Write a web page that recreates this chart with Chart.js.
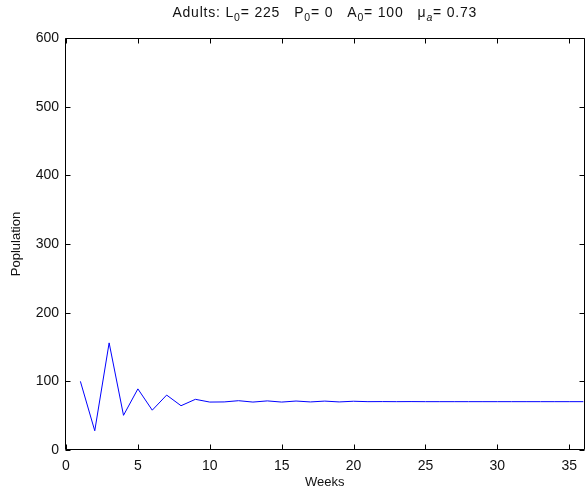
<!DOCTYPE html>
<html><head><meta charset="utf-8">
<script src="https://cdn.jsdelivr.net/npm/chart.js@4"></script>
<style>html,body{margin:0;padding:0;background:#fff}#wrap{width:585px;height:494px}</style>
</head><body><div id="wrap"><canvas id="c" width="585" height="494"></canvas></div>
<script>
const weeks = [1,2,3,4,5,6,7,8,9,10,11,12,13,14,15,16,17,18,19,20,21,22,23,24,25,26,27,28,29,30,31,32,33,34,35,36];
const adults = [100,28,156,50.5,89,58,80,64.5,73.8,69.8,70,71.8,69.8,71.5,69.8,71.3,70,71.2,70,71,70.4,70.5,70.4,70.5,70.4,70.4,70.4,70.4,70.4,70.4,70.4,70.4,70.4,70.4,70.4,70.4];
const xTicks = [0,5,10,15,20,25,30,35];
const yTicks = [0,100,200,300,400,500,600];
const titleParts = [
  ['Adults: L',false],['0',true],['= 225   P',false],['0',true],['= 0   A',false],['0',true],['= 100   \u03bc',false],['a',true,true],['= 0.73',false]
];

const FONT = '"Liberation Sans", Arial, sans-serif';

const frame = {
  id: 'frame',
  afterDatasetsDraw(chart) {
    const {ctx, chartArea: a, scales: {x, y}} = chart;
    const L = Math.round(a.left) - 0.5, R = Math.round(a.right) + 0.5;
    const T = Math.round(a.top) + 0.5, B = Math.round(a.bottom) - 0.5;
    ctx.save();
    ctx.strokeStyle = '#000';
    ctx.lineWidth = 1;
    ctx.beginPath();
    ctx.rect(L, T, R - L, B - T);
    const tl = 5;
    x.ticks.forEach(t => {
      const px = Math.round(x.getPixelForValue(t.value)) + 0.5;
      ctx.moveTo(px, B); ctx.lineTo(px, B - tl);
      ctx.moveTo(px, T); ctx.lineTo(px, T + tl);
    });
    y.ticks.forEach(t => {
      const py = Math.round(y.getPixelForValue(t.value)) + 0.5;
      ctx.moveTo(L, py); ctx.lineTo(L + tl, py);
      ctx.moveTo(R, py); ctx.lineTo(R - tl, py);
    });
    ctx.stroke();
    // title
    const big = '14px ' + FONT, small = '10.5px ' + FONT, smallIt = 'italic 10.5px ' + FONT;
    if ('letterSpacing' in ctx) ctx.letterSpacing = '0.8px';
    let total = 0;
    titleParts.forEach(([s, sub, it]) => {
      ctx.font = sub ? (it ? smallIt : small) : big;
      total += ctx.measureText(s).width;
    });
    let cx = (a.left + a.right) / 2 - total / 2;
    const base = 17;
    ctx.fillStyle = '#111';
    ctx.textBaseline = 'alphabetic';
    ctx.textAlign = 'left';
    titleParts.forEach(([s, sub, it]) => {
      ctx.font = sub ? (it ? smallIt : small) : big;
      ctx.fillText(s, cx, sub ? base + 3.5 : base);
      cx += ctx.measureText(s).width;
    });
    ctx.restore();
  }
};

new Chart(document.getElementById('c'), {
  type: 'line',
  data: {
    datasets: [{
      data: weeks.map((w, i) => ({x: w, y: adults[i]})),
      borderColor: '#0000ff',
      borderWidth: 1,
      pointRadius: 0,
      tension: 0,
      fill: false
    }]
  },
  options: {
    responsive: false,
    animation: false,
    devicePixelRatio: 1,
    layout: {padding: {top: 38, left: 0, right: 0, bottom: 0}},
    plugins: {legend: {display: false}, tooltip: {enabled: false}, title: {display: false}},
    scales: {
      x: {
        type: 'linear', min: 0, max: 36,
        afterBuildTicks: s => { s.ticks = xTicks.map(v => ({value: v})); },
        afterFit: s => { s.height = 44; },
        grid: {display: false, drawTicks: false},
        border: {display: false},
        ticks: {font: {family: FONT, size: 14}, color: '#111', padding: 8, maxRotation: 0, autoSkip: false},
        title: {display: true, text: 'Weeks', color: '#111', font: {family: FONT, size: 13}, padding: {top: 0, bottom: 4}}
      },
      y: {
        type: 'linear', min: 0, max: 600,
        afterBuildTicks: s => { s.ticks = yTicks.map(v => ({value: v})); },
        afterFit: s => { s.width = 66; },
        grid: {display: false, drawTicks: false},
        border: {display: false},
        ticks: {font: {family: FONT, size: 14}, color: '#111', padding: 7},
        title: {display: true, text: 'Poplulation', color: '#111', font: {family: FONT, size: 13}, padding: {top: 9, bottom: 0}}
      }
    }
  },
  plugins: [frame]
});
</script>
</body></html>
